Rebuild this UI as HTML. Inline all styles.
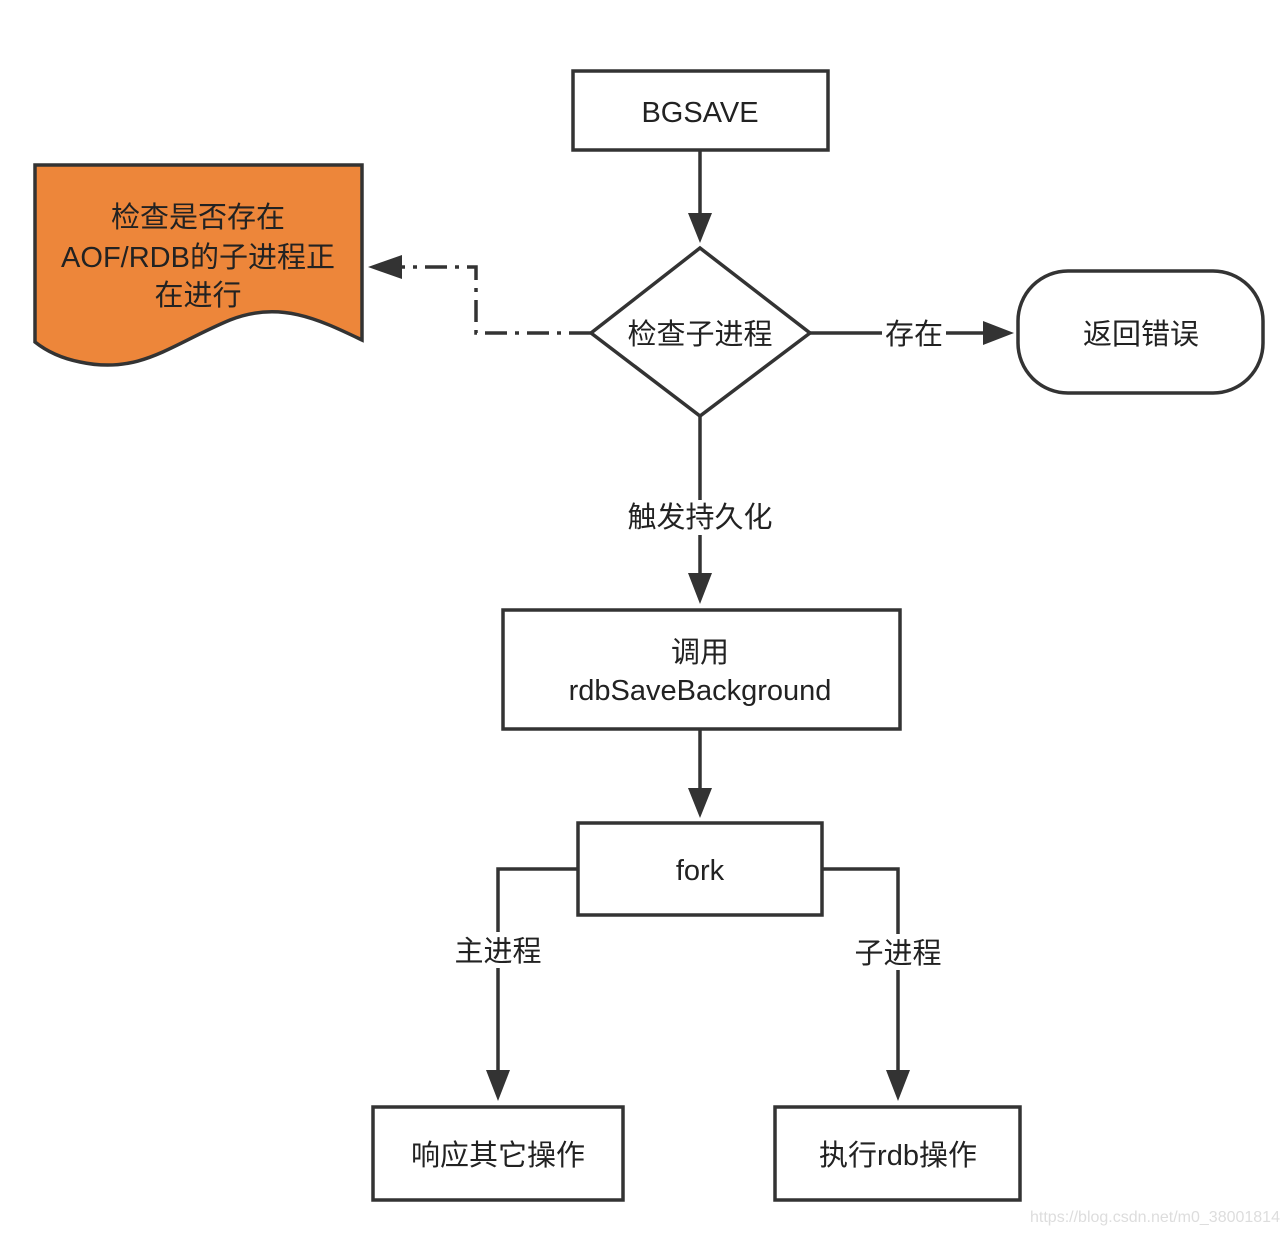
<!DOCTYPE html>
<html><head><meta charset="utf-8"><style>
html,body{margin:0;padding:0;background:#fff;}
svg{display:block;}
text{font-family:"Liberation Sans","Noto Sans CJK SC",sans-serif;fill:#222;}
</style></head><body>
<svg width="1288" height="1234" viewBox="0 0 1288 1234" xmlns="http://www.w3.org/2000/svg">
<defs>
<marker id="ah" markerWidth="10" markerHeight="10" refX="9" refY="5" orient="auto" markerUnits="userSpaceOnUse" viewBox="0 0 10 10">
</marker>
</defs>
<g stroke="#333" stroke-width="3.5" fill="none">
<!-- BGSAVE -->
<rect x="573" y="71" width="255" height="79" fill="#fff"/>
<!-- diamond -->
<polygon points="700,248 810,333 700,416 591,333" fill="#fff"/>
<!-- return error -->
<rect x="1018" y="271" width="245" height="122" rx="50" fill="#fff"/>
<!-- rdbSaveBackground -->
<rect x="503" y="610" width="397" height="119" fill="#fff"/>
<!-- fork -->
<rect x="578" y="823" width="244" height="92" fill="#fff"/>
<!-- bottom boxes -->
<rect x="373" y="1107" width="250" height="93" fill="#fff"/>
<rect x="775" y="1107" width="245" height="93" fill="#fff"/>
<!-- doc shape -->
<path d="M35,165 L362,165 L362,340 C320,320 280,300 230,320 C170,345 140,375 80,362 C60,358 45,350 35,342 Z" fill="#ED863A"/>
<!-- connectors -->
<line x1="700" y1="150" x2="700" y2="215"/>
<line x1="700" y1="416" x2="700" y2="500"/>
<line x1="700" y1="535" x2="700" y2="575"/>
<line x1="700" y1="729" x2="700" y2="790"/>
<line x1="810" y1="333" x2="882" y2="333"/>
<line x1="946" y1="333" x2="985" y2="333"/>
<polyline points="578,869 498,869 498,932"/>
<line x1="498" y1="968" x2="498" y2="1072"/>
<polyline points="822,869 898,869 898,934"/>
<line x1="898" y1="970" x2="898" y2="1072"/>
<polyline points="591,333 476,333 476,267 400,267" stroke-dasharray="22,8,4,8"/>
</g>
<g fill="#333">
<polygon points="688,213 712,213 700,243"/>
<polygon points="688,573 712,573 700,604"/>
<polygon points="688,788 712,788 700,818"/>
<polygon points="983,321 983,345 1014,333"/>
<polygon points="486,1070 510,1070 498,1101"/>
<polygon points="886,1070 910,1070 898,1101"/>
<polygon points="402,255 402,279 368,267"/>
</g>
<g font-size="29" text-anchor="middle">
<text x="700" y="122">BGSAVE</text>
<text x="700" y="344">检查子进程</text>
<text x="914" y="344">存在</text>
<text x="1141" y="344">返回错误</text>
<text x="700" y="527">触发持久化</text>
<text x="700" y="662">调用</text>
<text x="700" y="700">rdbSaveBackground</text>
<text x="700" y="880">fork</text>
<text x="498" y="961">主进程</text>
<text x="898" y="963">子进程</text>
<text x="498" y="1165">响应其它操作</text>
<text x="898" y="1165">执行rdb操作</text>
</g>
<g font-size="29" text-anchor="middle" style="fill:#fff">
<text x="198" y="227" fill="#fff">检查是否存在</text>
<text x="198" y="267" fill="#fff">AOF/RDB的子进程正</text>
<text x="198" y="305" fill="#fff">在进行</text>
</g>
<text x="1155" y="1222" font-size="16" text-anchor="middle" fill="#ddd" style="fill:#ddd">https://blog.csdn.net/m0_38001814</text>
</svg>
</body></html>
